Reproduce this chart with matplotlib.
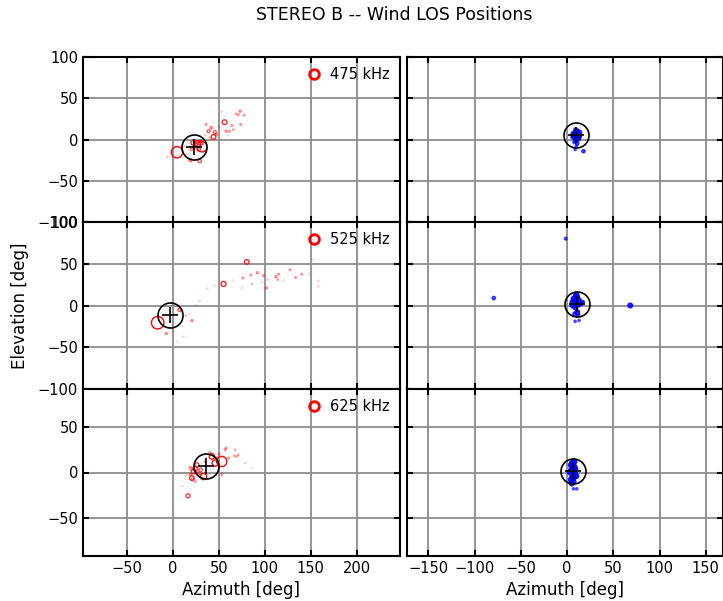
import numpy as np
import matplotlib
matplotlib.use("Agg")
import matplotlib.pyplot as plt
from matplotlib.colors import to_rgba
from matplotlib.lines import Line2D

freqs = ["475 kHz", "525 kHz", "625 kHz"]

# left column (red): azimuth, elevation, weight
az_475 = [4.3, 31.5, 26.7, 22, 30, 28, 20, 29, 19, -6.5, 44, 47, 45.5, 38.6, 41.5, 36, 56, 57.8,
          64, 65.7, 73.6, 73, 77.3, 68.7, 53, 40, 35, 12, 15, 50, 60, 24, 61.4, 71]
el_475 = [-15.4, -8.9, -5.2, -4, -4, -12, -12, -26, -25, -21.4, 3.2, 6, 9, 10, 14.2, 18.2, 21, 10,
          17, 12, 18.2, 34.4, 29.5, 31.2, 34, 2, 5, -8, -18, 15, 5, -3.2, 10, 30]
w_475 = [0.95, 0.9, 0.7, 0.6, 0.6, 0.5, 0.4, 0.5, 0.45, 0.15, 0.6, 0.4, 0.45, 0.45, 0.4, 0.3, 0.6, 0.35,
         0.3, 0.25, 0.3, 0.35, 0.3, 0.25, 0.12, 0.2, 0.15, 0.15, 0.12, 0.2, 0.1, 0.5, 0.3, 0.3]

az_525 = [-16.7, 80.3, 54.9, 7.2, -7.3, 20.6, 91.8, 84.6, 98.3, 101.5, 112, 115, 114, 127.2, 133.4,
          140, 75.9, 75, 86, 158, 158, 152.5, 28.9, 37.5, 45, 65, 11.5, 4, 25, 18, 103, 97, 120, 148,
          0, 14]
el_525 = [-20.6, 52.2, 25.9, -4.9, -33.6, -18.2, 39.2, 36.4, 35.6, 21, 34.4, 37.6, 31, 42.8, 33.6,
          37.6, 32.8, 21.5, 26, 29.5, 23, 54.6, 5.2, 20.2, 24, 30, -37.2, -43, 0, -10, 31, 28, 30, 38,
          -30, -12]
w_525 = [1.0, 0.6, 0.62, 0.5, 0.35, 0.35, 0.35, 0.3, 0.3, 0.35, 0.35, 0.3, 0.25, 0.3, 0.3,
         0.3, 0.3, 0.12, 0.2, 0.15, 0.12, 0.08, 0.15, 0.12, 0.1, 0.1, 0.12, 0.1, 0.1, 0.12, 0.15, 0.12, 0.12, 0.12,
         0.15, 0.2]

az_625 = [53, 45.9, 42.3, 33.2, 16.3, 22.3, 20.6, 26, 24, 28, 30, 19, 56.7, 67.6, 69.4, 78.4, 60.3,
          47, 53, 18.8, 24.2, 57.8, 66.5, 71, 21.3, 14, 10, 40, 50, 35, 85.7]
el_625 = [12, 10.3, 17.5, -4.4, -25.4, 1.1, -6.1, 8.4, 4, -1, 3, 5, 24.8, 24.8, 17.5, 10.3, 15.7,
          16, -2.5, -2.5, -9.8, 26.6, 18.2, 19.3, -7.2, -3, -15, 22, 20, 12, 4.8]
w_625 = [0.9, 0.7, 0.65, 0.7, 0.55, 0.6, 0.6, 0.55, 0.6, 0.45, 0.5, 0.4, 0.3, 0.25, 0.25, 0.15, 0.3,
         0.35, 0.3, 0.35, 0.3, 0.3, 0.25, 0.25, 0.35, 0.15, 0.1, 0.3, 0.3, 0.3, 0.1]

# right column (blue)
az_475b = [8, 10, 12, 9, 11, 7, 13, 10, 8, 11, 9, 12, 8.7, 17.7, 10, 6, 14]
el_475b = [5, 8, 4, 2, 10, 7, 6, 0, -3, -5, 12, 1, -12, -14.2, -8, 3, 9]
w_475b = [0.7, 0.7, 0.7, 0.6, 0.6, 0.6, 0.6, 0.6, 0.5, 0.5, 0.5, 0.6, 0.4, 0.5, 0.4, 0.5, 0.5]

az_525b = [-1.4, -79.2, 68.3, 8.7, 13, 8, 10, 12, 9, 13, 6, 11, 10, 15, 8, 12, 7, 17, 5]
el_525b = [80.1, 8.9, 0, -19, -18, 5, 10, 2, -2, 6, 0, -8, 13, 3, -10, -12, 8, 4, 4]
w_525b = [0.45, 0.5, 0.6, 0.4, 0.4, 0.7, 0.7, 0.7, 0.6, 0.6, 0.6, 0.6, 0.6, 0.6, 0.5, 0.5, 0.6, 0.5, 0.5]

az_625b = [6, 7, 5, 8, 6, 7, 4, 9, 3, 10, 5, 6.9, 10.5, 8, 4]
el_625b = [10, 6, 2, -2, -6, -10, 8, 4, 0, -4, -12, -17.8, -17.8, 12, -8]
w_625b = [0.7, 0.7, 0.7, 0.7, 0.7, 0.6, 0.6, 0.6, 0.6, 0.6, 0.6, 0.4, 0.4, 0.6, 0.6]

# centroids
cen_left = [(23.3, -8.9), (-2.9, -10.9), (36.1, 6.6)]
cen_right = [(9.8, 5.2), (11.2, 2.0), (6.2, 1.9)]

left_data = [(az_475, el_475, w_475), (az_525, el_525, w_525), (az_625, el_625, w_625)]
right_data = [(az_475b, el_475b, w_475b), (az_525b, el_525b, w_525b), (az_625b, el_625b, w_625b)]

W, H = 723, 601
fig = plt.figure(figsize=(W / 100, H / 100), dpi=100)

rows_px = [(57, 222), (222, 389), (389, 556)]
cols_px = [(83, 400), (407, 722.5)]
ylims = [(-100, 100), (-100, 100), (-91, 91)]


def scat(ax, az, el, w, color, fill=False):
    w = np.array(w)
    s = 1 + 80 * w ** 4
    cols = [to_rgba(color, min(1.0, 1.4 * wi)) for wi in w]
    ax.scatter(az, el, s=s, facecolors=cols if fill else "none", edgecolors=cols,
               linewidths=1.0, zorder=3)


def style(ax):
    ax.grid(True, color="#8c8c8c", lw=1.3, zorder=0)
    ax.set_axisbelow(True)
    ax.tick_params(direction="in", length=4, width=1.5, top=True, right=True, labelsize=10.5)
    for sp in ax.spines.values():
        sp.set_linewidth(1.5)


for r in range(3):
    y0, y1 = rows_px[r]
    for c in range(2):
        x0, x1 = cols_px[c]
        ax = fig.add_axes([x0 / W, 1 - y1 / H, (x1 - x0) / W, (y1 - y0) / H])
        style(ax)
        ax.set_ylim(*ylims[r])
        if r < 2:
            ax.set_yticks([-100, -50, 0, 50, 100])
        else:
            ax.set_yticks([-50, 0, 50])
        if c == 0:
            az, el, w = left_data[r]
            scat(ax, az, el, w, "red")
            cx, cy = cen_left[r]
            ax.set_xlim(-98, 247)
            ax.set_xticks([-50, 0, 50, 100, 150, 200])
            h = Line2D([], [], marker="o", ls="", mfc="none", mec="red", ms=7, mew=2)
            ax.legend([h], [freqs[r]], loc="upper right", frameon=False, fontsize=10.5,
                      handletextpad=0.5, borderaxespad=0.3, handlelength=1.2)
        else:
            az, el, w = right_data[r]
            scat(ax, az, el, w, "blue", fill=True)
            cx, cy = cen_right[r]
            ax.set_xlim(-173, 168)
            ax.set_xticks([-150, -100, -50, 0, 50, 100, 150])
            ax.tick_params(labelleft=False)
        ax.plot([cx], [cy], marker="o", ms=18, mfc="none", mec="black", mew=1.2, zorder=4)
        ax.plot([cx], [cy], marker="+", ms=12, mec="black", mew=1.2, zorder=4)
        if r < 2:
            ax.tick_params(labelbottom=False)
        else:
            ax.set_xlabel("Azimuth [deg]", fontsize=12)

fig.text(20 / W, 1 - 306 / H, "Elevation [deg]", rotation=90, ha="center", va="center", fontsize=12)
fig.text(394 / W, 1 - 15 / H, "STEREO B -- Wind LOS Positions", ha="center", va="center", fontsize=12.5)

fig.savefig("out.png", dpi=100)
